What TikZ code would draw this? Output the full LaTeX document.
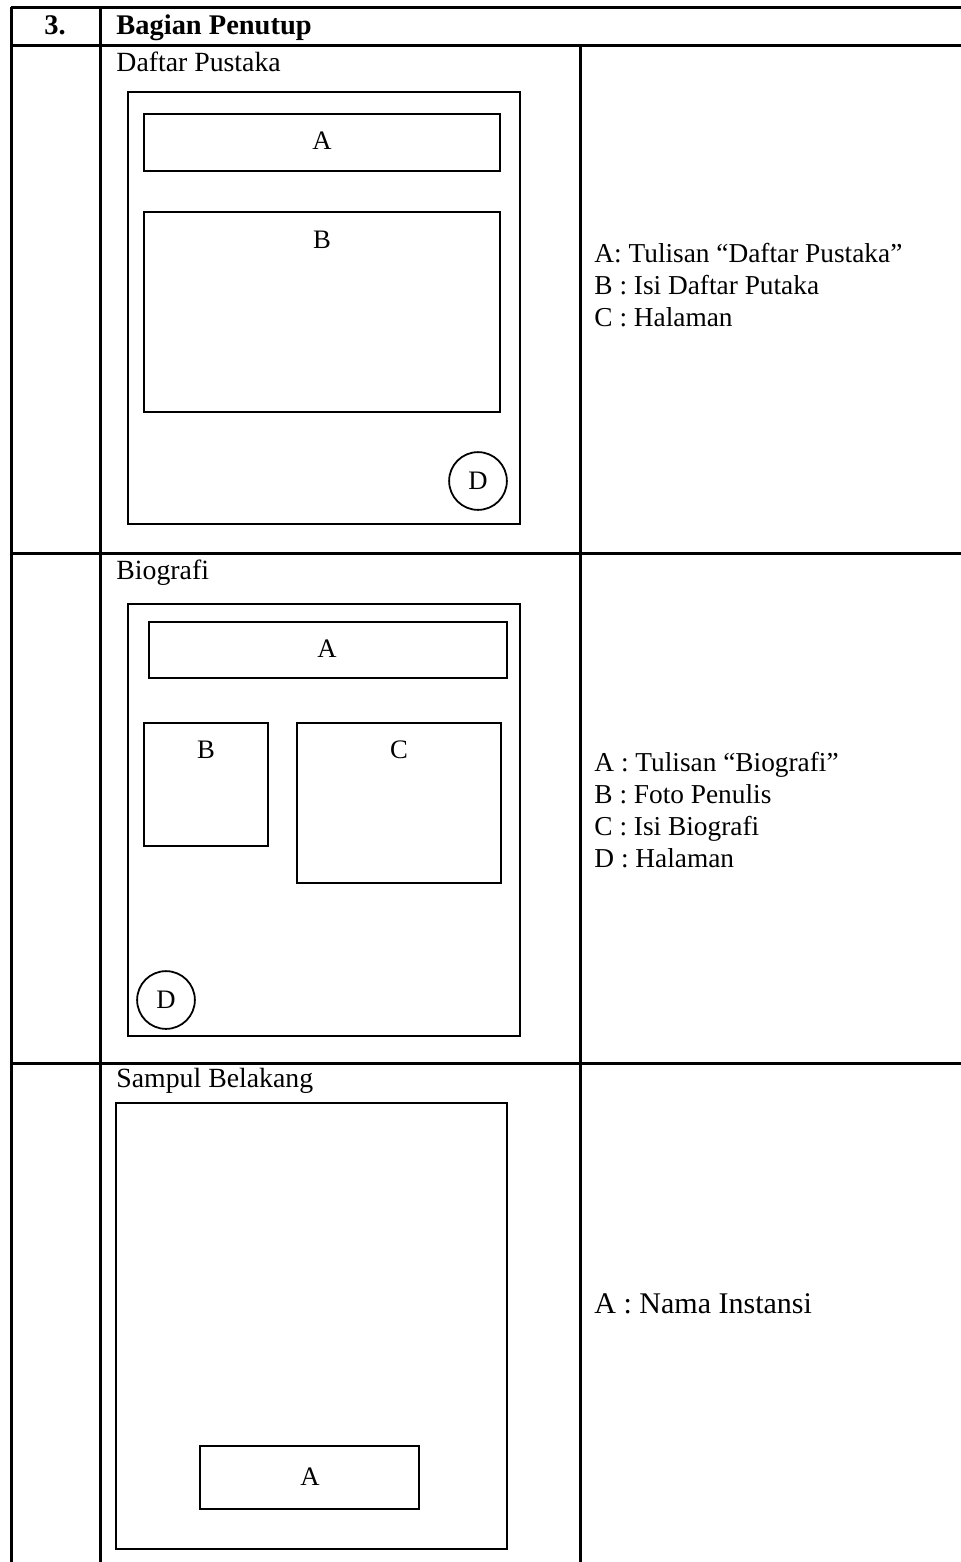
\documentclass[tikz,border=0pt]{standalone}
\usepackage{fontspec}
\setmainfont{Liberation Serif}
\usetikzlibrary{positioning}
\tikzset{
  rule/.style={draw=black,line width=1.35pt},
  pageframe/.style={draw=black,line width=.9pt},
  part/.style={draw=black,line width=.9pt},
  pagenum/.style={draw=black,line width=.8pt,circle,minimum size=26pt,inner sep=0pt,font=\fontsize{12}{14}\selectfont},
  tag/.style={inner sep=0pt,font=\fontsize{12}{14}\selectfont},
  title/.style={anchor=base west,inner sep=0pt,font=\fontsize{12.5}{15}\selectfont},
  legend/.style={anchor=west,inner sep=0pt,align=left,font=\fontsize{12.3}{14.3}\selectfont}
}
\begin{document}
\begin{tikzpicture}[x=0.45pt,y=-0.45pt]
  \useasboundingbox[fill=white] (0,0) rectangle (961,1562);
  % table rules
  \draw[rule] (11,7) -- (961,7);
  \draw[rule] (11,45) -- (961,45);
  \draw[rule] (11,553) -- (961,553);
  \draw[rule] (11,1063) -- (961,1063);
  \draw[rule] (11,7) -- (11,1562);
  \draw[rule] (100,7) -- (100,1562);
  \draw[rule] (580,45) -- (580,1562);
  % header
  \node[anchor=base,inner sep=0pt,font=\fontsize{12.8}{15}\selectfont\bfseries] (num) at (55,34) {3.};
  \node[title,font=\fontsize{12.8}{15}\selectfont\bfseries] (head) at (116,34) {Bagian Penutup};

  % Daftar Pustaka
  \node[title] (dpTitle) at (116,71) {Daftar Pustaka};
  \draw[pageframe] (128,92) rectangle (520,524);
  \draw[part] (144,114) rectangle (500,171);
  \node[tag] (dpA) at (322,141) {A};
  \draw[part] (144,212) rectangle (500,412);
  \node[tag] (dpB) at (322,240) {B};
  \node[pagenum] (dpD) at (478,481) {D};
  \node[legend] (dpKey) at (594,285) {A: Tulisan “Daftar Pustaka”\\B : Isi Daftar Putaka\\C : Halaman};

  % Biografi
  \node[title] (bioTitle) at (116,579) {Biografi};
  \draw[pageframe] (128,604) rectangle (520,1036);
  \draw[part] (149,622) rectangle (507,678);
  \node[tag] (bioA) at (327,649) {A};
  \draw[part] (144,723) rectangle (268,846);
  \node[tag] (bioB) at (206,750) {B};
  \draw[part] (297,723) rectangle (501,883);
  \node[tag] (bioC) at (399,750) {C};
  \node[pagenum] (bioD) at (166,1000) {D};
  \node[legend] (bioKey) at (594,810) {A : Tulisan “Biografi”\\B : Foto Penulis\\C : Isi Biografi\\D : Halaman};

  % Sampul Belakang
  \node[title] (backTitle) at (116,1087) {Sampul Belakang};
  \draw[pageframe] (116,1103) rectangle (507,1549);
  \draw[part] (200,1446) rectangle (419,1509);
  \node[tag] (backA) at (310,1477) {A};
  \node[legend,font=\fontsize{13.5}{16}\selectfont] (backKey) at (594,1304) {A : Nama Instansi};
\end{tikzpicture}
\end{document}
